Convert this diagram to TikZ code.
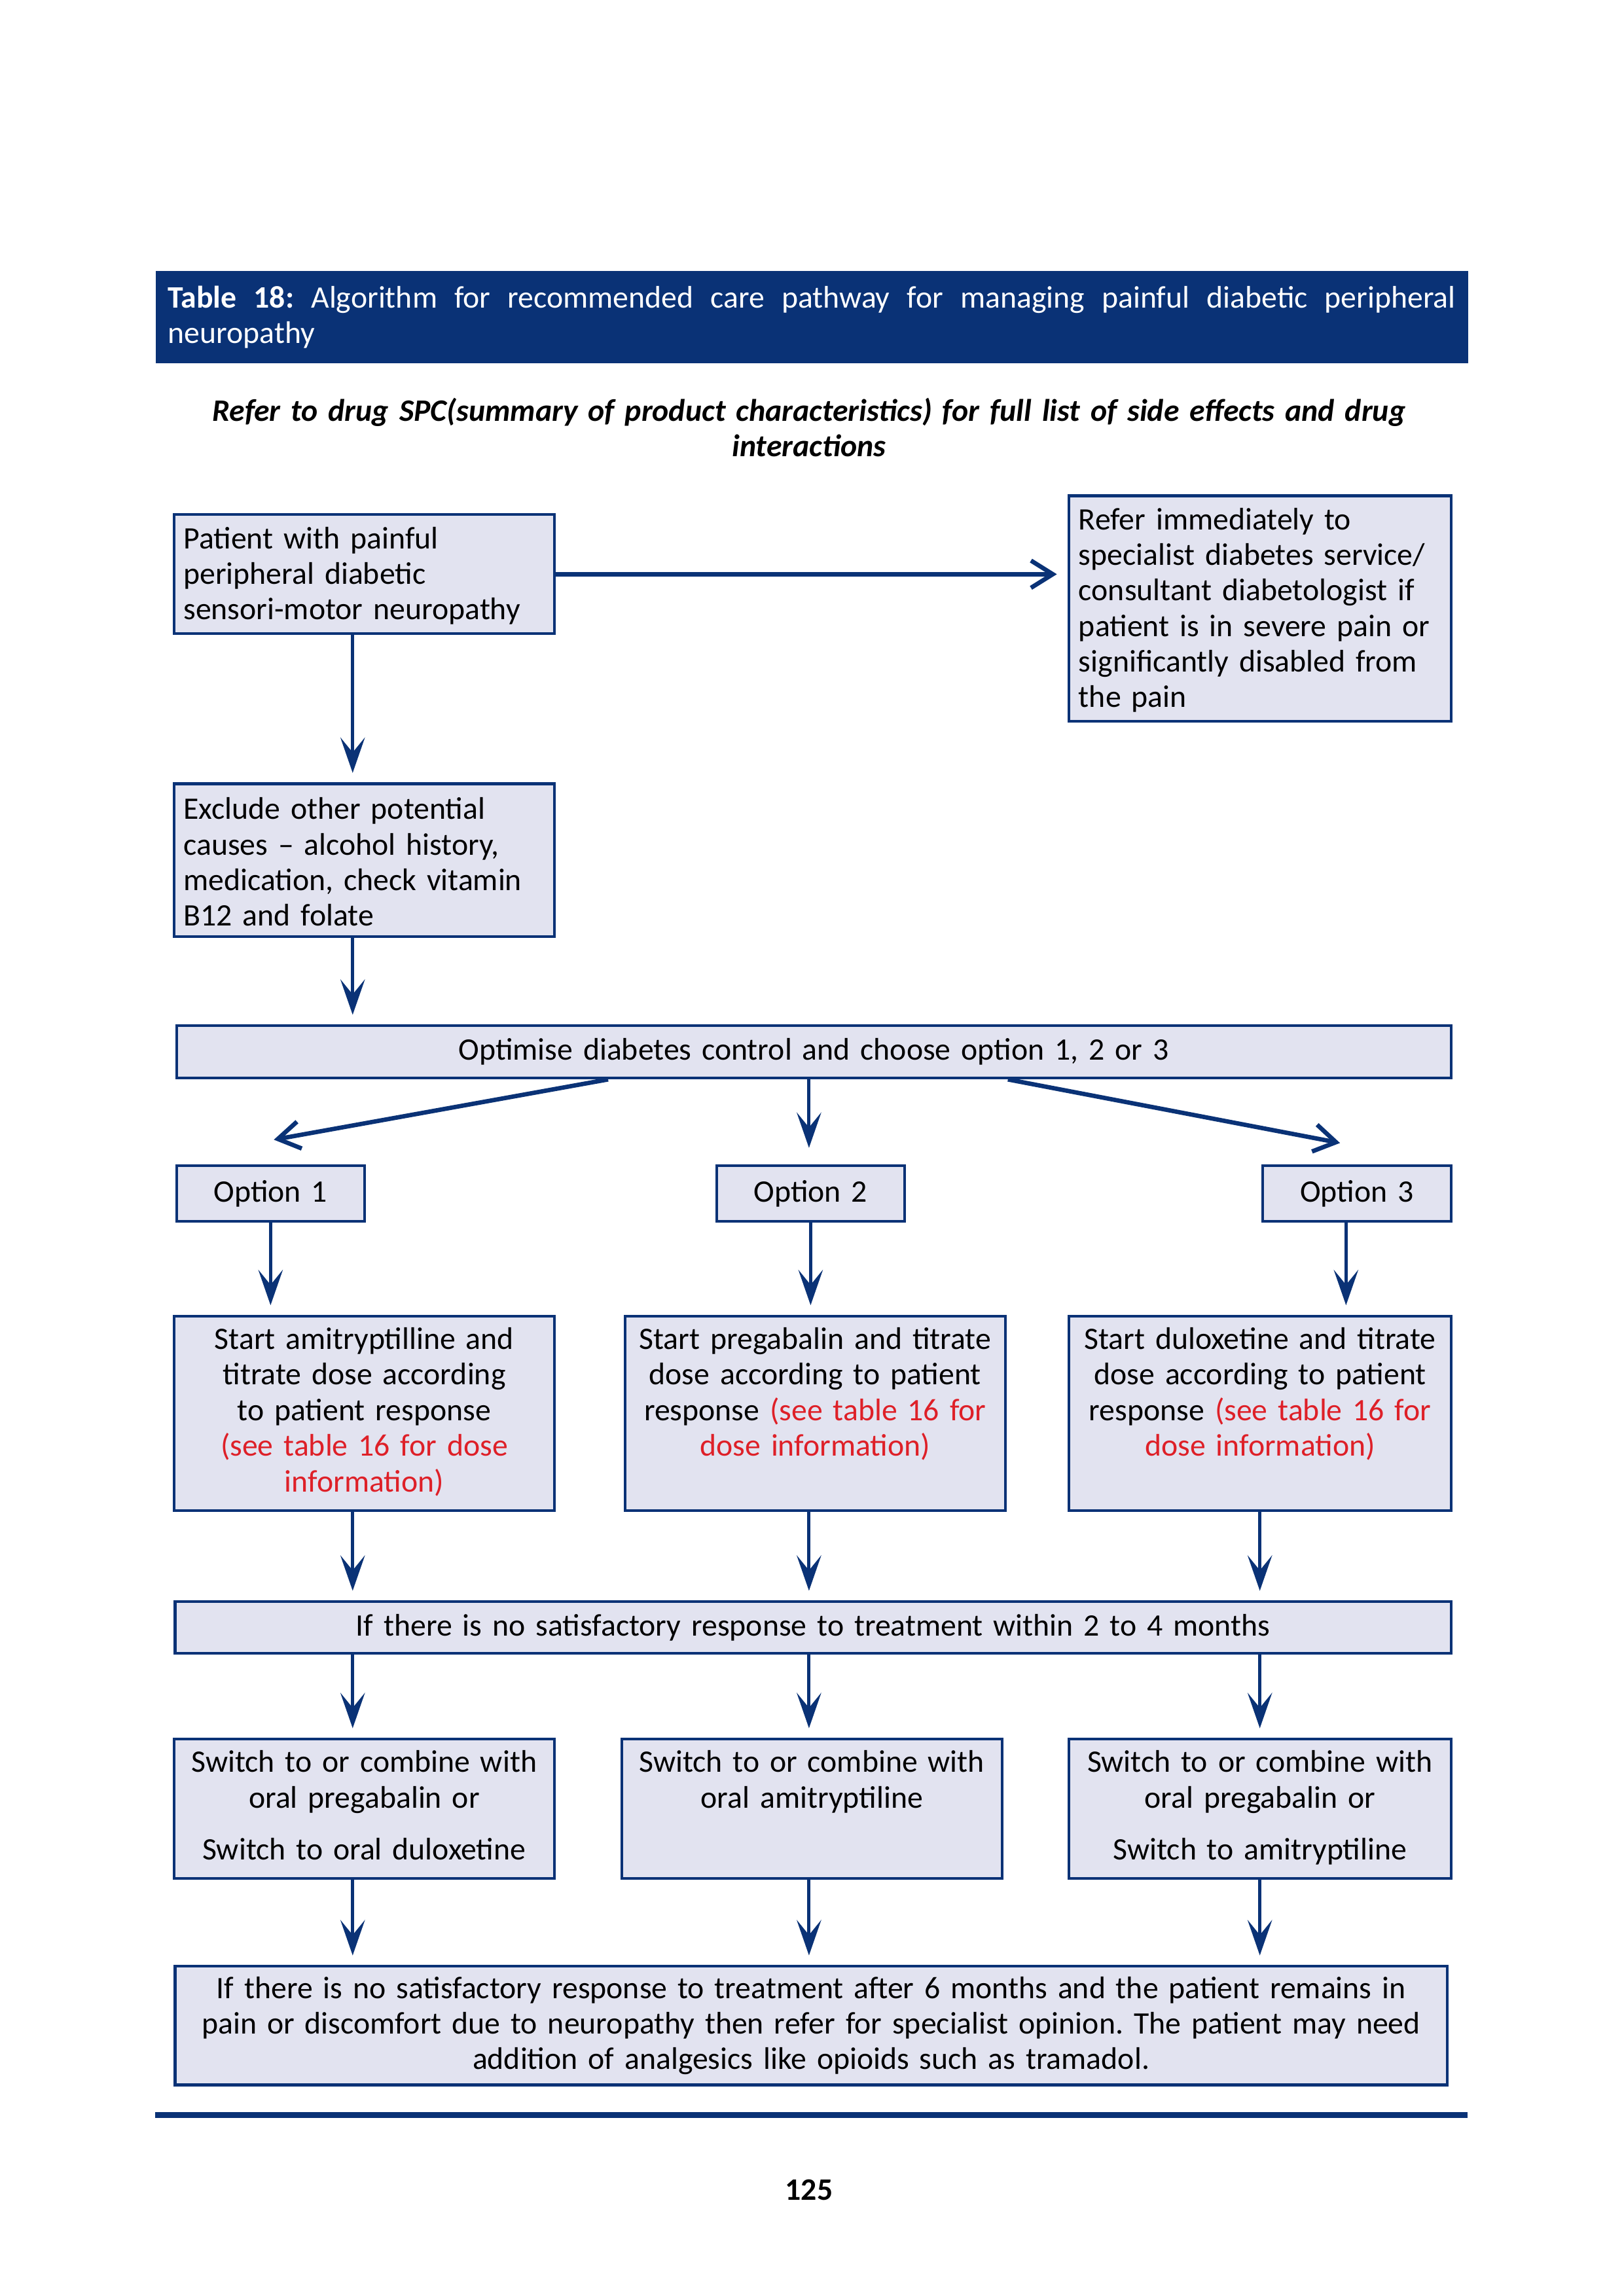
\documentclass[tikz,border=0pt]{standalone}
\usepackage{fontspec}
\setmainfont{Carlito}
\usetikzlibrary{arrows.meta,calc}

\definecolor{navy}{RGB}{10,50,118}
\definecolor{boxfill}{RGB}{226,227,240}
\definecolor{alertred}{RGB}{222,32,40}

\tikzset{
  stage/.style={draw=navy,fill=boxfill,line width=1bp,inner xsep=3.5bp,inner ysep=3bp,
    anchor=north west,font=\fontsize{11.5}{13.1}\selectfont},
  flow/.style={draw=navy,line width=1.2bp,shorten >=3.5bp,
    -{Stealth[length=13bp,width=9bp,inset=5.5bp]}},
  branch/.style={draw=navy,line width=1.6bp,
    -{Straight Barb[length=8bp,width=10bp]}}
}

\begin{document}
\frenchspacing
\begin{tikzpicture}[x=1bp,y=-1bp]
\useasboundingbox (0,0) rectangle (595.28,841.89);

% title bar and note
\node[fill=navy,text=white,anchor=north west,inner xsep=4.5bp,inner ysep=3bp,
  minimum height=33.8bp,text width=472.1bp,align=justify,
  font=\fontsize{11.5}{13.1}\selectfont] (title) at (56.9,99.2)
  {\textbf{Table 18:} Algorithm for recommended care pathway for managing painful diabetic peripheral \mbox{neuropathy}};
\node[text width=480bp,align=center,font=\fontsize{11.5}{13}\selectfont\bfseries\itshape] (note) at (296.6,156.7)
  {Refer to drug SPC(summary of product characteristics) for full list of side effects and drug\\ interactions};

% first stages
\node[stage,text width=132.5bp,minimum height=43.7bp,align=left] (patient) at (63.3,188.2)
  {\strut Patient with painful\\ peripheral diabetic\\ sensori-motor neuropathy};
\node[stage,text width=133bp,minimum height=82.7bp,align=left] (refer) at (391.5,181.3)
  {\strut Refer immediately to\\ specialist diabetes service/\\ consultant diabetologist if\\ patient is in severe pain or\\ significantly disabled from\\ the pain};
\node[stage,text width=132.5bp,minimum height=56.1bp,align=left] (exclude) at (63.3,286.9)
  {\strut Exclude other potential\\ causes -- alcohol history,\\ medication, check vitamin\\ B12 and folate};
\node[stage,text width=460.3bp,minimum height=19.2bp,align=center] (optimise) at (64.2,375.6)
  {Optimise diabetes control and choose option 1, 2 or 3};

% options
\node[stage,text width=62bp,minimum height=20.4bp,align=center] (opt1) at (64.2,426.9) {Option 1};
\node[stage,text width=61.8bp,minimum height=20.4bp,align=center] (opt2) at (262.3,426.9) {Option 2};
\node[stage,text width=62.2bp,minimum height=20.4bp,align=center] (opt3) at (462.4,426.9) {Option 3};

% drugs
\node[stage,text width=132.5bp,minimum height=69.9bp,align=center] (start1) at (63.3,482.1)
  {\strut Start amitryptilline and\\ titrate dose according\\ to patient response\\
   \textcolor{alertred}{(see table 16 for dose}\\ \textcolor{alertred}{information)}\strut};
\node[stage,text width=132.5bp,minimum height=69.9bp,align=center] (start2) at (228.6,482.1)
  {\strut Start pregabalin and titrate\\ dose according to patient\\ response \textcolor{alertred}{(see table 16 for}\\
   \textcolor{alertred}{dose information)}\\ \strut};
\node[stage,text width=133bp,minimum height=69.9bp,align=center] (start3) at (391.5,482.1)
  {\strut Start duloxetine and titrate\\ dose according to patient\\ response \textcolor{alertred}{(see table 16 for}\\
   \textcolor{alertred}{dose information)}\\ \strut};

\node[stage,text width=460.8bp,minimum height=19bp,align=center] (noresp) at (63.7,586.8)
  {If there is no satisfactory response to treatment within 2 to 4 months};

% second line
\node[stage,text width=132.5bp,minimum height=49.4bp,align=center] (switch1) at (63.3,637.2)
  {\strut Switch to or combine with\\ oral pregabalin or\\[6bp] Switch to oral duloxetine\strut};
\node[stage,text width=132.5bp,minimum height=49.4bp,align=center] (switch2) at (227.4,637.2)
  {\strut Switch to or combine with\\ oral amitryptiline\\[6bp] \strut};
\node[stage,text width=133bp,minimum height=49.4bp,align=center] (switch3) at (391.5,637.2)
  {\strut Switch to or combine with\\ oral pregabalin or\\[6bp] Switch to amitryptiline\strut};

\node[stage,text width=459.4bp,minimum height=43.5bp,align=center] (final) at (63.7,720.5)
  {If there is no satisfactory response to treatment after 6 months and the patient remains in\\
   pain or discomfort due to neuropathy then refer for specialist opinion. The patient may need\\
   addition of analgesics like opioids such as tramadol.};

\fill[navy] (56.9,774.4) rectangle (538.0,776.7);
\node[font=\fontsize{11.5}{13.1}\selectfont\bfseries] (page) at (296.6,803.1) {125};

% columns of the arrows
\coordinate (c1) at (129.3,0);
\coordinate (c2) at (296.6,0);
\coordinate (c3) at (461.9,0);
\coordinate (d1) at ($(optimise.south west)!0.339!(optimise.south east)$);
\coordinate (d3) at ($(optimise.south west)!0.652!(optimise.south east)$);
\coordinate (t1) at (100.4,417.9);
\coordinate (t3) at (491.3,419.1);

\draw[branch,shorten >=4bp] (patient.east) -- (patient.east -| refer.west);
\draw[flow] (patient.south -| c1) -- (exclude.north -| c1);
\draw[flow] (exclude.south -| c1) -- (optimise.north -| c1);

\draw[branch] (d1) -- (t1);
\draw[flow,shorten >=6bp] (optimise.south -| c2) -- (opt2.north -| c2);
\draw[branch] (d3) -- (t3);

\draw[flow] (opt1.south) -- (start1.north -| opt1.south);
\draw[flow] (opt2.south) -- (start2.north -| opt2.south);
\draw[flow] ([xshift=-4bp]opt3.south) -- ([xshift=-4bp]opt3.south |- start3.north);

\foreach \col/\upper/\lower in {c1/start1/switch1,c2/start2/switch2,c3/start3/switch3}{
  \draw[flow] (\upper.south -| \col) -- (noresp.north -| \col);
  \draw[flow] (noresp.south -| \col) -- (\lower.north -| \col);
  \draw[flow] (\lower.south -| \col) -- (final.north -| \col);
}
\end{tikzpicture}
\end{document}
